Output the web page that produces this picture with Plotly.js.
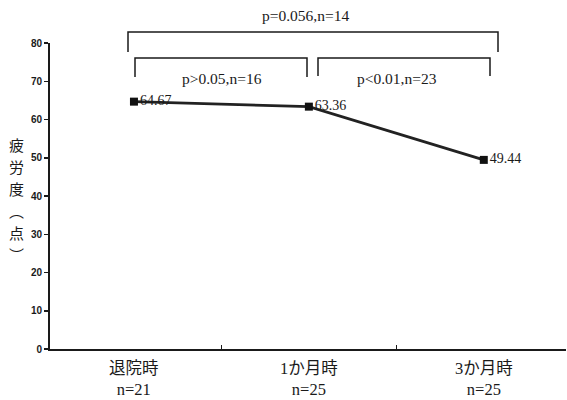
<!DOCTYPE html>
<html>
<head>
<meta charset="utf-8">
<script src="https://cdn.plot.ly/plotly-3.0.1.min.js"></script>
<style>html,body{margin:0;padding:0;background:#fff;}#chart{width:567px;height:400px;}</style>
</head>
<body>
<div id="chart"></div>
<script>
// Data
const categories = ["退院時", "1か月時", "3か月時"];
const sampleSizes = ["n=21", "n=25", "n=25"];
const fatigue = [64.67, 63.36, 49.44];
const valueLabels = ["64.67", "63.36", "49.44"];
const yTitleChars = ["疲", "労", "度", "︵", "点", "︶"];
const comparisons = ["p=0.056,n=14", "p>0.05,n=16", "p<0.01,n=23"];

const serif = "Liberation Serif, 'Noto Sans CJK JP', serif";
const ink = "#1a1a1a";

const trace = {
  x: categories,
  y: fatigue,
  type: "scatter",
  mode: "lines+markers+text",
  text: valueLabels,
  textposition: "middle right",
  textfont: {family: serif, size: 14, color: ink},
  line: {color: "#222", width: 2.8},
  marker: {symbol: "square", size: 8, color: "#111"},
  cliponaxis: false,
  hoverinfo: "skip"
};

function px2x(px) { return (px - 50) / 516; }
function py2y(py) { return (349 - py) / 306; }

const lineStyle = {color: ink, width: 1.5};
function bracket(x0, x1, yTop, yLeg0, yLeg1) {
  return {
    type: "path",
    xref: "paper", yref: "paper",
    path: `M ${px2x(x0)} ${py2y(yLeg0)} L ${px2x(x0)} ${py2y(yTop)} L ${px2x(x1)} ${py2y(yTop)} L ${px2x(x1)} ${py2y(yLeg1)}`,
    line: lineStyle
  };
}

const annotations = [
  {xref: "paper", yref: "paper", x: px2x(305), y: py2y(15), text: comparisons[0], showarrow: false,
   font: {family: serif, size: 15.5, color: ink}, xanchor: "center", yanchor: "middle"},
  {xref: "paper", yref: "paper", x: px2x(222), y: py2y(78), text: comparisons[1], showarrow: false,
   font: {family: serif, size: 15.5, color: ink}, xanchor: "center", yanchor: "middle"},
  {xref: "paper", yref: "paper", x: px2x(397), y: py2y(78), text: comparisons[2], showarrow: false,
   font: {family: serif, size: 15.5, color: ink}, xanchor: "center", yanchor: "middle"}
];

// vertical y-axis title, one character per row
yTitleChars.forEach((ch, i) => {
  annotations.push({xref: "paper", yref: "paper", x: px2x(16), y: py2y(144 + i * 22), text: ch, showarrow: false,
    font: {family: "'Noto Sans CJK JP', sans-serif", size: 15, color: ink}, xanchor: "center", yanchor: "middle"});
});

// category labels (two lines, drawn at each category position)
categories.forEach((c, i) => {
  annotations.push({xref: "x", yref: "paper", x: c, y: py2y(379), text: c + "<br>" + sampleSizes[i], showarrow: false,
    font: {family: serif, size: 16.5, color: ink}, xanchor: "center", yanchor: "middle"});
});

const layout = {
  width: 567, height: 400,
  margin: {l: 50, r: 1, t: 43, b: 51, pad: 0},
  paper_bgcolor: "#fff", plot_bgcolor: "#fff",
  showlegend: false,
  xaxis: {
    type: "category",
    range: [-0.48, 2.47],
    tickmode: "array",
    tickvals: categories,
    showticklabels: false,
    tickson: "boundaries",
    ticks: "inside", ticklen: 4, tickwidth: 1.5, tickcolor: ink,
    showline: true, linecolor: ink, linewidth: 2,
    showgrid: false, zeroline: false
  },
  yaxis: {
    range: [0, 80],
    dtick: 10,
    ticks: "outside", ticklen: 4, tickwidth: 1.5, tickcolor: ink,
    showline: true, linecolor: ink, linewidth: 2,
    showgrid: false, zeroline: false,
    tickfont: {family: "Liberation Sans, Arial, sans-serif", size: 10, color: ink, weight: "bold"}
  },
  shapes: [
    bracket(128, 498, 32, 52, 52),
    bracket(135, 307, 58, 77, 77),
    bracket(318, 490, 58, 76, 76)
  ],
  annotations: annotations
};

Plotly.newPlot("chart", [trace], layout, {displayModeBar: false, staticPlot: true});
</script>
</body>
</html>
